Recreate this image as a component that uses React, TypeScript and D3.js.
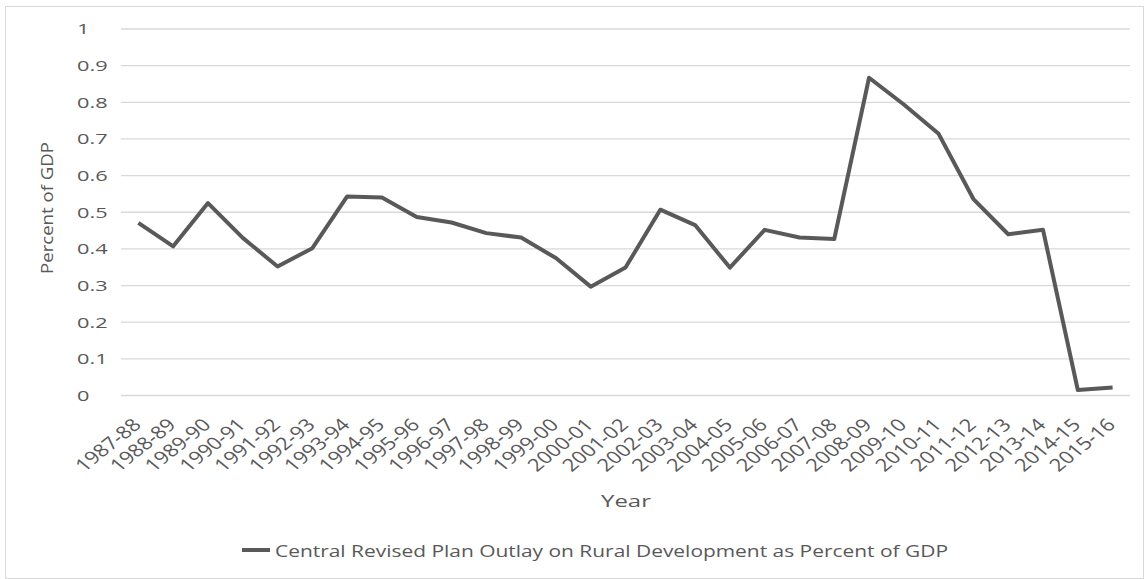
import { scalePoint, scaleLinear, line } from "d3";

// fiscal years on the x axis
const years = [
  "1987-88", "1988-89", "1989-90", "1990-91", "1991-92", "1992-93", "1993-94",
  "1994-95", "1995-96", "1996-97", "1997-98", "1998-99", "1999-00", "2000-01",
  "2001-02", "2002-03", "2003-04", "2004-05", "2005-06", "2006-07", "2007-08",
  "2008-09", "2009-10", "2010-11", "2011-12", "2012-13", "2013-14", "2014-15",
  "2015-16",
];

// outlay as percent of GDP
const outlay = [
  0.471, 0.407, 0.525, 0.43, 0.352, 0.402, 0.543, 0.54, 0.487, 0.472, 0.443,
  0.431, 0.375, 0.297, 0.349, 0.507, 0.465, 0.349, 0.452, 0.431, 0.427, 0.867,
  0.794, 0.714, 0.536, 0.44, 0.452, 0.015, 0.022,
];

const yTicks = [0, 0.1, 0.2, 0.3, 0.4, 0.5, 0.6, 0.7, 0.8, 0.9, 1];

const seriesName = "Central Revised Plan Outlay on Rural Development as Percent of GDP";

const W = 1144;
const H = 579;
const grey = "#595959";
const font = "'Open Sans', 'Noto Sans', sans-serif";
const sx = 1.45; // the source picture is stretched sideways

export default function App() {
  const x = scalePoint<string>().domain(years).range([121, 1130]).padding(0.5);
  const y = scaleLinear().domain([0, 1]).range([395.5, 29]);

  const path = line<number>()
    .x((_, i) => x(years[i]) as number)
    .y((d) => y(d))(outlay);

  return (
    <svg
      width={W}
      height={H}
      style={{ position: "absolute", left: 0, top: 0, background: "#fff" }}
      fontFamily={font}
    >
      <rect x={5.5} y={6.5} width={W - 6} height={H - 7} fill="#fff" stroke="#d9d9d9" />

      {/* grid + y labels */}
      {yTicks.map((t) => (
        <g key={t}>
          <line x1={121} x2={1130} y1={y(t)} y2={y(t)} stroke="#d9d9d9" strokeWidth={1.3} />
          <text
            transform={`translate(77,${y(t) + 5.4}) scale(${sx},1)`}
            fontSize={15}
            fill={grey}
          >
            {String(t)}
          </text>
        </g>
      ))}

      <text
        transform={`translate(53,208) rotate(-90)`}
        fontSize={17}
        fill={grey}
        textAnchor="middle"
        textLength={132}
        lengthAdjust="spacingAndGlyphs"
      >
        Percent of GDP
      </text>

      {/* x labels */}
      {years.map((yr) => (
        <text
          key={yr}
          transform={`translate(${(x(yr) as number) + 4},426) scale(1.25,1) rotate(-45)`}
          fontSize={17.5}
          fill={grey}
          textAnchor="end"
        >
          {yr}
        </text>
      ))}

      <text
        transform={`translate(626,506.5) scale(${sx},1)`}
        fontSize={16.5}
        fill={grey}
        textAnchor="middle"
      >
        Year
      </text>

      <path d={path ?? ""} fill="none" stroke={grey} strokeWidth={4} strokeLinejoin="round" />

      {/* legend */}
      <line x1={242} x2={270} y1={550} y2={550} stroke={grey} strokeWidth={4} />
      <text
        x={275}
        y={557}
        fontSize={16.5}
        fill={grey}
        textLength={673}
        lengthAdjust="spacingAndGlyphs"
      >
        {seriesName}
      </text>
    </svg>
  );
}
